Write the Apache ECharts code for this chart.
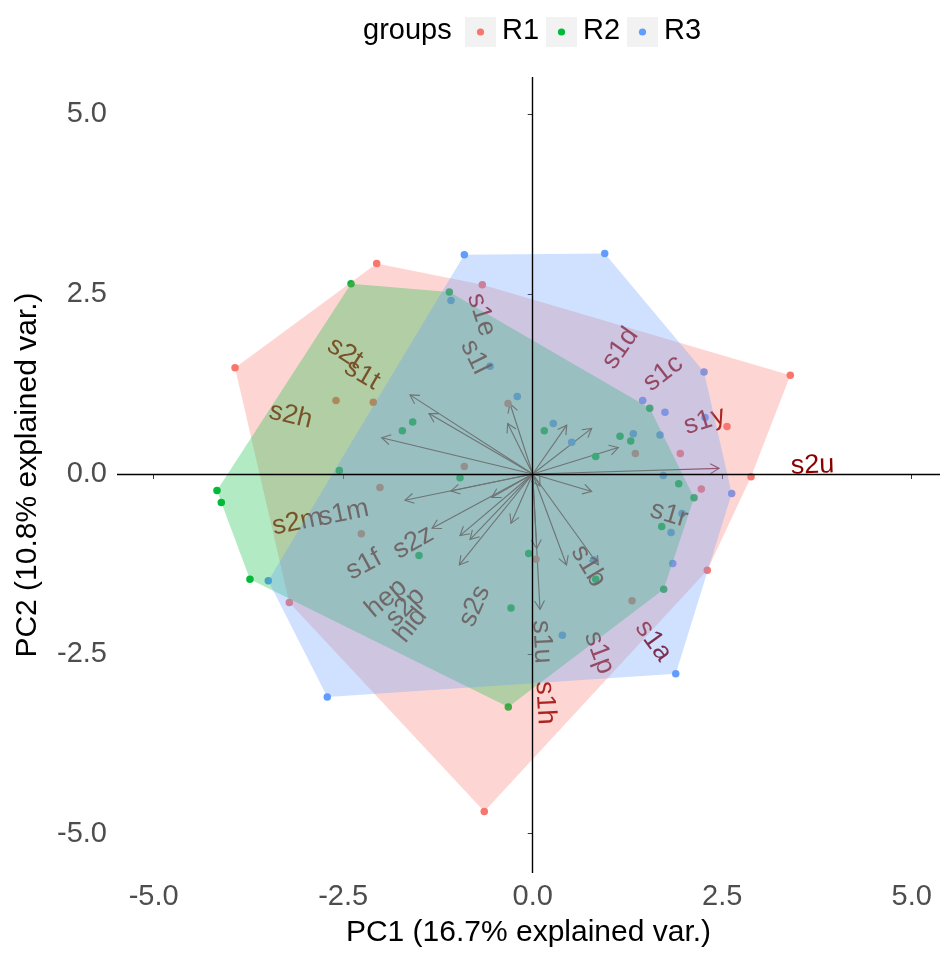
<!DOCTYPE html>
<html>
<head>
<meta charset="utf-8">
<script src="https://cdn.jsdelivr.net/npm/echarts@6/dist/echarts.min.js"></script>
<style>
  html, body { margin: 0; padding: 0; background: #ffffff; }
  #chart { width: 940px; height: 953px; }
</style>
</head>
<body>
<div id="chart"></div>
<script>
// PCA scores per group (PC1, PC2)
const groupNames = ['R1', 'R2', 'R3'];
const r1X = [-2.058, -3.927, -2.595, -2.103, -0.665, -0.326, 1.354, 1.947, 2.563, 3.398, 2.880, 2.224, 2.303, -0.902, -2.015, -2.261, -3.211, 0.044, 1.310, -0.639];
const r1Y = [2.929, 1.479, 1.022, 0.999, 2.631, 0.981, 0.285, 0.285, 0.661, 1.374, -0.038, -0.209, -1.337, 0.103, -0.189, -0.830, -1.786, -1.187, -1.763, -4.694];
const r2X = [-2.397, -1.100, -1.583, -1.720, -2.551, 0.153, 0.831, 1.152, 1.293, 1.544, 1.926, 2.128, 1.702, -0.959, -4.165, -4.108, -1.500, -3.730, -0.053, 0.831, 1.728, -0.286, -0.322];
const r2Y = [2.645, 2.531, 0.724, 0.601, 0.048, 0.601, 0.244, 0.524, 0.460, 0.916, -0.134, -0.332, -0.730, -0.052, -0.230, -0.395, -1.132, -1.465, -1.104, -1.465, -1.602, -1.863, -3.240];
const r3X = [-0.902, 0.950, -1.078, -0.563, -0.203, 0.272, 0.515, 1.327, 1.451, 1.745, 2.260, 1.679, 2.273, 1.723, 2.625, 1.970, 1.825, 1.847, 0.805, 0.391, 1.887, -3.488, -2.710];
const r3Y = [3.048, 3.066, 2.412, 1.498, 1.077, 0.702, 0.442, 0.560, 1.022, 0.857, 1.420, 0.542, 0.785, -0.021, -0.272, -0.551, -0.812, -1.246, -1.191, -2.243, -2.778, -1.484, -3.103];

// Variable loadings (arrow tips)
const varNames = ['s2t', 's1t', 's2h', 's1e', 's1l', 's1d', 's1c', 's1y', 's2u', 's1r', 's2m', 's1m', 's2z', 's1f', 'hep', 's2p', 'hid', 's2s', 's1b', 's1u', 's1h', 's1p', 's1a'];
const varX = [-1.619, -1.368, -1.992, -0.299, -0.330, 0.449, 0.778, 1.129, 2.458, 0.778, -1.685, -1.078, -0.541, -1.328, -0.959, -0.827, -0.968, -0.286, 0.096, 0.053, 0.096, 0.446, 0.867];
const varY = [1.100, 0.840, 0.505, 0.977, 0.702, 0.679, 0.634, 0.368, 0.078, -0.244, -0.364, -0.236, -0.326, -0.754, -0.857, -0.912, -1.265, -0.686, -0.167, -1.036, -1.882, -1.265, -1.265];

// Axis ticks
const xTicks = [-5, -2.5, 0, 2.5, 5];
const yTicks = [-5, -2.5, 0, 2.5, 5];
const xTitle = 'PC1 (16.7% explained var.)';
const yTitle = 'PC2 (10.8% explained var.)';

const groupX = [r1X, r2X, r3X];
const groupY = [r1Y, r2Y, r3Y];
const groupColors = ['#F8766D', '#00BA38', '#619CFF'];
const arrowColor = '#832424';
const varLabelColor = '#8B0000';
const FONT = '"Liberation Sans", Arial, sans-serif';
const varFontSize = 27;
const varHjust = 1.65;   // label starts this many label-widths past the arrow tip

const measureCtx = document.createElement('canvas').getContext('2d');
function textWidth(str, size) {
  measureCtx.font = size + 'px ' + FONT;
  return measureCtx.measureText(str).width;
}

// Convex hull (monotone chain)
function hull(xs, ys) {
  const pts = xs.map((x, i) => [x, ys[i]]).sort((a, b) => a[0] - b[0] || a[1] - b[1]);
  const cross = (o, a, b) => (a[0] - o[0]) * (b[1] - o[1]) - (a[1] - o[1]) * (b[0] - o[0]);
  const lower = [];
  for (const p of pts) {
    while (lower.length >= 2 && cross(lower[lower.length - 2], lower[lower.length - 1], p) <= 0) lower.pop();
    lower.push(p);
  }
  const upper = [];
  for (let i = pts.length - 1; i >= 0; i--) {
    const p = pts[i];
    while (upper.length >= 2 && cross(upper[upper.length - 2], upper[upper.length - 1], p) <= 0) upper.pop();
    upper.push(p);
  }
  upper.pop(); lower.pop();
  return lower.concat(upper);
}
const hulls = groupNames.map((g, i) => hull(groupX[i], groupY[i]));

const chart = echarts.init(document.getElementById('chart'), null, { renderer: 'canvas' });

const scatterSeries = groupNames.map((g, i) => ({
  name: g,
  type: 'scatter',
  z: 2,
  symbol: 'circle',
  symbolSize: 7.5,
  itemStyle: { color: groupColors[i], opacity: 1 },
  emphasis: { disabled: true },
  silent: true,
  data: groupX[i].map((x, j) => [x, groupY[i][j]])
}));

const varData = varNames.map((n, i) => [varX[i], varY[i]]);

const option = {
  animation: false,
  grid: { left: 117, right: 0, top: 77, bottom: 69, containLabel: false },
  xAxis: {
    type: 'value',
    min: -5.484, max: 5.373,
    axisLine: { show: false },
    splitLine: { show: false },
    axisTick: { show: true, customValues: xTicks, length: 5, lineStyle: { color: '#333333', width: 1 } },
    axisLabel: { customValues: xTicks, formatter: v => v.toFixed(1), fontSize: 29, color: '#4D4D4D', fontFamily: FONT, margin: 9 },
    name: xTitle, nameLocation: 'middle', nameGap: 45,
    nameTextStyle: { fontSize: 30, color: '#000000', fontFamily: FONT }
  },
  yAxis: {
    type: 'value',
    min: -5.549, max: 5.521,
    axisLine: { show: false },
    splitLine: { show: false },
    axisTick: { show: true, customValues: yTicks, length: 5, lineStyle: { color: '#333333', width: 1 } },
    axisLabel: { customValues: yTicks, formatter: v => v.toFixed(1), fontSize: 29, color: '#4D4D4D', fontFamily: FONT, margin: 10 },
    name: yTitle, nameLocation: 'middle', nameGap: 74, nameRotate: 90,
    nameTextStyle: { fontSize: 30, color: '#000000', fontFamily: FONT }
  },
  graphic: [
    { type: 'text', left: 363, top: 16, style: { text: 'groups', font: '29px ' + FONT, fill: '#000000' } },
    { type: 'rect', shape: { x: 465, y: 17, width: 31, height: 30 }, style: { fill: '#F2F2F2' } },
    { type: 'circle', shape: { cx: 480.5, cy: 32, r: 3.6 }, style: { fill: groupColors[0] } },
    { type: 'text', left: 502, top: 16, style: { text: 'R1', font: '29px ' + FONT, fill: '#000000' } },
    { type: 'rect', shape: { x: 546, y: 17, width: 31, height: 30 }, style: { fill: '#F2F2F2' } },
    { type: 'circle', shape: { cx: 561.5, cy: 32, r: 3.6 }, style: { fill: groupColors[1] } },
    { type: 'text', left: 583, top: 16, style: { text: 'R2', font: '29px ' + FONT, fill: '#000000' } },
    { type: 'rect', shape: { x: 627, y: 17, width: 31, height: 30 }, style: { fill: '#F2F2F2' } },
    { type: 'circle', shape: { cx: 642.5, cy: 32, r: 3.6 }, style: { fill: groupColors[2] } },
    { type: 'text', left: 664, top: 16, style: { text: 'R3', font: '29px ' + FONT, fill: '#000000' } }
  ],
  series: [
    // loading arrows
    {
      type: 'custom', z: 1, silent: true,
      data: varData,
      renderItem: function (params, api) {
        const o = api.coord([0, 0]);
        const t = api.coord([api.value(0), api.value(1)]);
        const a = Math.atan2(t[1] - o[1], t[0] - o[0]);
        const head = 10, sp = Math.PI / 6;
        const h1 = [t[0] - head * Math.cos(a - sp), t[1] - head * Math.sin(a - sp)];
        const h2 = [t[0] - head * Math.cos(a + sp), t[1] - head * Math.sin(a + sp)];
        return {
          type: 'group',
          children: [
            { type: 'line', shape: { x1: o[0], y1: o[1], x2: t[0], y2: t[1] }, style: { stroke: arrowColor, lineWidth: 1.1 } },
            { type: 'polyline', shape: { points: [h1, t, h2] }, style: { stroke: arrowColor, fill: null, lineWidth: 1.1 } }
          ]
        };
      }
    },
    ...scatterSeries,
    // loading labels, rotated along each arrow
    {
      type: 'custom', z: 3, silent: true,
      data: varData,
      renderItem: function (params, api) {
        const name = varNames[params.dataIndex];
        const o = api.coord([0, 0]);
        const t = api.coord([api.value(0), api.value(1)]);
        const dx = t[0] - o[0], dy = t[1] - o[1];
        const len = Math.hypot(dx, dy);
        const w = textWidth(name, varFontSize);
        const d = len + (varHjust + 0.5) * w;
        const cx = o[0] + dx / len * d, cy = o[1] + dy / len * d;
        return {
          type: 'text', x: cx, y: cy, rotation: Math.atan(-dy / dx),
          style: { text: name, font: varFontSize + 'px ' + FONT, fill: varLabelColor, align: 'center', verticalAlign: 'middle' }
        };
      }
    },
    // convex hulls per group, translucent, drawn over everything else
    {
      type: 'custom', z: 4, silent: true,
      data: groupNames.map((g, i) => [i, 0]),
      renderItem: function (params, api) {
        const gi = params.dataIndex;
        const pts = hulls[gi].map(p => api.coord(p));
        return {
          type: 'polygon', shape: { points: pts },
          style: { fill: groupColors[gi], opacity: 0.3 }
        };
      }
    },
    // zero reference lines
    {
      type: 'line', z: 5, silent: true, data: [],
      markLine: {
        silent: true, symbol: 'none', animation: false,
        label: { show: false },
        lineStyle: { color: '#000000', type: 'solid', width: 1.4 },
        emphasis: { disabled: true },
        data: [{ xAxis: 0 }, { yAxis: 0 }]
      }
    }
  ]
};
chart.setOption(option);
</script>
</body>
</html>
